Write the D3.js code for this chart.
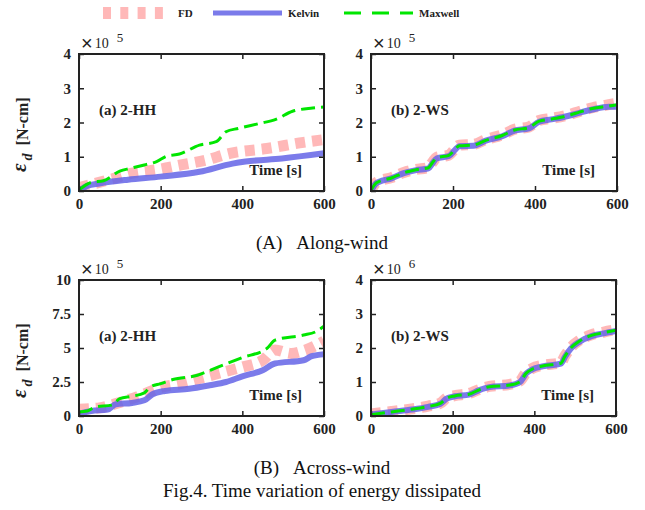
<!DOCTYPE html>
<html>
<head>
<meta charset="utf-8">
<script src="https://cdn.jsdelivr.net/npm/d3@7"></script>
<style>
  body { margin: 0; background: #fff; }
  svg text { font-family: "Liberation Serif", "Times New Roman", serif; }
</style>
</head>
<body>
<div id="chart"></div>
<script>
// values, [time s, energy in panel units]
var kelvinAHH = [[0,0],[20,0.15],[50,0.22],[120,0.33],[200,0.42],[295,0.56],[376,0.8],[408,0.86],[497,0.95],[600,1.1]];
var maxwellAHH = [[0,0.03],[30,0.25],[60,0.3],[100,0.58],[125,0.66],[160,0.76],[190,0.86],[215,1.02],[246,1.08],[295,1.34],[336,1.44],[360,1.73],[391,1.83],[441,1.97],[482,2.09],[523,2.33],[572,2.42],[600,2.45]];
var fdAHH = [[0,0.1],[80,0.35],[130,0.52],[190,0.62],[250,0.76],[310,0.9],[370,1.1],[460,1.24],[550,1.42],[600,1.5]];

var kelvinAWS = [[0,0],[12,0.22],[20,0.27],[50,0.37],[80,0.52],[110,0.61],[140,0.66],[150,0.81],[160,0.95],[190,1.02],[205,1.2],[215,1.31],[250,1.32],[280,1.47],[320,1.6],[350,1.76],[385,1.83],[410,2.02],[440,2.09],[480,2.19],[510,2.29],[540,2.38],[580,2.46],[600,2.46]];
var maxwellAWS = [[0,0.02],[12,0.23],[20,0.28],[50,0.38],[80,0.53],[110,0.62],[140,0.68],[150,0.83],[160,0.97],[190,1.04],[205,1.22],[215,1.32],[250,1.34],[280,1.48],[320,1.62],[350,1.78],[385,1.85],[410,2.04],[440,2.1],[480,2.2],[510,2.31],[540,2.41],[580,2.48],[600,2.52]];
var fdAWS = [[0,0.04],[12,0.24],[20,0.29],[50,0.39],[80,0.54],[110,0.63],[140,0.69],[150,0.84],[160,0.98],[190,1.05],[205,1.23],[215,1.34],[250,1.36],[280,1.5],[320,1.64],[350,1.8],[385,1.87],[410,2.06],[440,2.12],[480,2.22],[510,2.33],[540,2.43],[580,2.52],[600,2.56]];

var kelvinBHH = [[0,0.17],[30,0.37],[70,0.47],[90,0.86],[130,0.96],[160,1.15],[180,1.6],[210,1.84],[270,2.0],[320,2.26],[360,2.5],[400,2.92],[450,3.37],[480,3.86],[550,4.1],[570,4.4],[600,4.55]];
var maxwellBHH = [[0,0.3],[20,0.37],[40,0.66],[80,0.8],[100,1.28],[130,1.45],[160,1.7],[175,2.14],[200,2.38],[230,2.68],[290,3.0],[340,3.6],[400,4.3],[460,4.96],[480,5.58],[550,5.95],[580,6.2],[600,6.6]];
var fdBHH = [[0,0.5],[50,0.6],[100,1.0],[150,1.5],[200,2.1],[250,2.4],[300,2.8],[350,3.2],[400,3.6],[450,4.1],[480,4.85],[520,4.6],[550,4.8],[600,5.5]];

var kelvinBWS = [[0,0.04],[50,0.12],[100,0.19],[140,0.27],[170,0.36],[185,0.51],[205,0.58],[240,0.63],[265,0.76],[290,0.85],[340,0.9],[365,1.0],[380,1.25],[395,1.37],[420,1.46],[465,1.54],[475,1.74],[490,1.99],[510,2.18],[540,2.35],[570,2.43],[600,2.5]];
var maxwellBWS = [[0,0.04],[50,0.12],[100,0.2],[140,0.28],[170,0.37],[185,0.52],[205,0.59],[240,0.64],[265,0.77],[290,0.86],[340,0.91],[365,1.01],[380,1.26],[395,1.38],[420,1.47],[465,1.55],[475,1.76],[490,2.01],[510,2.2],[540,2.37],[570,2.45],[600,2.52]];
var fdBWS = [[0,0.06],[50,0.13],[100,0.21],[140,0.29],[170,0.38],[185,0.53],[205,0.6],[240,0.66],[265,0.78],[290,0.87],[340,0.93],[365,1.03],[380,1.28],[395,1.4],[420,1.49],[465,1.57],[475,1.77],[490,2.02],[510,2.22],[540,2.39],[570,2.47],[600,2.54]];

var xTicks = [0, 200, 400, 600];
var yTicksA = [0, 1, 2, 3, 4];
var yTicksB = [0, 2.5, 5, 7.5, 10];
var legendNames = ["FD", "Kelvin", "Maxwell"];

var W = 645, H = 510;
var svg = d3.select("#chart").append("svg").attr("width", W).attr("height", H);

var styles = {
  FD: { stroke: "#ffabab", width: 11, dash: "10,7", opacity: 0.85 },
  Kelvin: { stroke: "#6464e6", width: 6, dash: null, opacity: 0.85 },
  Maxwell: { stroke: "#00e600", width: 3, dash: "14,6", opacity: 1 }
};

var panels = [
  { id: "a1", x0: 79, x1: 324, y0: 54, y1: 191, ymax: 4, ticks: yTicksA, exp: "5", tag: "(a) 2-HH", ylab: true,
    series: { FD: fdAHH, Kelvin: kelvinAHH, Maxwell: maxwellAHH } },
  { id: "b1", x0: 371, x1: 617, y0: 54, y1: 191, ymax: 4, ticks: yTicksA, exp: "5", tag: "(b) 2-WS", ylab: false,
    series: { FD: fdAWS, Kelvin: kelvinAWS, Maxwell: maxwellAWS } },
  { id: "a2", x0: 79, x1: 324, y0: 280, y1: 416, ymax: 10, ticks: yTicksB, exp: "5", tag: "(a) 2-HH", ylab: true,
    series: { FD: fdBHH, Kelvin: kelvinBHH, Maxwell: maxwellBHH } },
  { id: "b2", x0: 371, x1: 616, y0: 280, y1: 416, ymax: 4, ticks: yTicksA, exp: "6", tag: "(b) 2-WS", ylab: false,
    series: { FD: fdBWS, Kelvin: kelvinBWS, Maxwell: maxwellBWS } }
];

var defs = svg.append("defs");

panels.forEach(function(p) {
  var x = d3.scaleLinear().domain([0, 600]).range([p.x0, p.x1]);
  var y = d3.scaleLinear().domain([0, p.ymax]).range([p.y1, p.y0]);
  var g = svg.append("g");

  defs.append("clipPath").attr("id", "clip-" + p.id)
    .append("rect").attr("x", p.x0).attr("y", p.y0)
    .attr("width", p.x1 - p.x0).attr("height", p.y1 - p.y0);

  var line = d3.line()
    .x(function(d) { return x(d[0]); })
    .y(function(d) { return y(d[1]); })
    .curve(d3.curveMonotoneX);

  var plot = g.append("g").attr("clip-path", "url(#clip-" + p.id + ")");
  legendNames.forEach(function(name) {
    var s = styles[name];
    plot.append("path").datum(p.series[name])
      .attr("d", line)
      .attr("fill", "none")
      .attr("stroke", s.stroke)
      .attr("stroke-width", s.width)
      .attr("stroke-opacity", s.opacity)
      .attr("stroke-dasharray", s.dash);
  });

  // axes, ticks pointing inward on all four sides
  var fmt = function(d) { return String(d); };
  g.append("g").attr("transform", "translate(0," + p.y1 + ")")
    .call(d3.axisBottom(x).tickValues(xTicks).tickSize(-5).tickPadding(7).tickFormat(fmt));
  g.append("g").attr("transform", "translate(0," + p.y0 + ")")
    .call(d3.axisTop(x).tickValues(xTicks).tickSize(-5).tickFormat(""));
  g.append("g").attr("transform", "translate(" + p.x0 + ",0)")
    .call(d3.axisLeft(y).tickValues(p.ticks).tickSize(-5).tickPadding(8).tickFormat(fmt));
  g.append("g").attr("transform", "translate(" + p.x1 + ",0)")
    .call(d3.axisRight(y).tickValues(p.ticks).tickSize(-5).tickFormat(""));

  g.selectAll(".domain").remove();
  g.selectAll(".tick line").attr("stroke", "#222").attr("stroke-width", 1.5);
  g.selectAll(".tick text")
    .attr("fill", "#222")
    .style("font-family", "'Liberation Serif', serif")
    .style("font-weight", "bold")
    .style("font-size", "15px");

  g.append("rect")
    .attr("x", p.x0).attr("y", p.y0)
    .attr("width", p.x1 - p.x0).attr("height", p.y1 - p.y0)
    .attr("fill", "none").attr("stroke", "#222").attr("stroke-width", 2);

  // x10^n multiplier
  var e = g.append("text").attr("x", p.x0 + 2).attr("y", p.y0 - 4).attr("fill", "#222");
  e.append("tspan").style("font-family", "'Liberation Sans', sans-serif").style("font-size", "20px").text("×");
  e.append("tspan").attr("dx", 2).attr("dy", -2).style("font-size", "14px").text("10");
  e.append("tspan").attr("dx", 8).attr("dy", -6).style("font-size", "13px").text(p.exp);

  g.append("text").attr("x", p.x0 + 20).attr("y", p.y0 + 61)
    .style("font-weight", "bold").style("font-size", "15px").attr("fill", "#222")
    .text(p.tag);

  g.append("text").attr("x", p.x1 - 22).attr("y", p.y1 - 16)
    .attr("text-anchor", "end")
    .style("font-weight", "bold").style("font-size", "15px").attr("fill", "#222")
    .text("Time [s]");

  if (p.ylab) {
    var t = g.append("text")
      .attr("transform", "translate(26," + (p.y0 + 118) + ") rotate(-90)")
      .attr("fill", "#222").style("font-weight", "bold");
    t.append("tspan").style("font-style", "italic").style("font-size", "21px").text("ε");
    t.append("tspan").attr("dy", 6).attr("dx", 3).style("font-style", "italic").style("font-size", "14px").text("d");
    t.append("tspan").attr("dy", -4).attr("dx", 8).style("font-size", "16px").text("[N-cm]");
  }
});

// legend
var legendX = [103, 213, 344];
var legendLen = [60, 69, 69];
legendNames.forEach(function(name, i) {
  var s = styles[name];
  var lg = svg.append("g");
  lg.append("line")
    .attr("x1", legendX[i]).attr("x2", legendX[i] + legendLen[i])
    .attr("y1", 13).attr("y2", 13)
    .attr("stroke", s.stroke)
    .attr("stroke-opacity", s.opacity)
    .attr("stroke-width", name === "FD" ? 12 : (name === "Kelvin" ? 5 : 3))
    .attr("stroke-dasharray", name === "FD" ? "8,9.3" : (name === "Maxwell" ? "17,11" : null));
  lg.append("text")
    .attr("x", legendX[i] + legendLen[i] + (name === "FD" ? 15 : 6)).attr("y", 17)
    .style("font-weight", "bold").style("font-size", "11px").attr("fill", "#222")
    .text(name);
});

// captions
function caption(label, rest, yy) {
  var c = svg.append("text").attr("x", 322).attr("y", yy).attr("text-anchor", "middle")
    .style("font-size", "19px").attr("fill", "#111");
  c.append("tspan").text(label);
  c.append("tspan").attr("dx", 14).text(rest);
}
caption("(A)", "Along-wind", 249);
caption("(B)", "Across-wind", 474);
svg.append("text").attr("x", 322).attr("y", 497).attr("text-anchor", "middle")
  .style("font-size", "19px").attr("fill", "#111")
  .text("Fig.4. Time variation of energy dissipated");
</script>
</body>
</html>
